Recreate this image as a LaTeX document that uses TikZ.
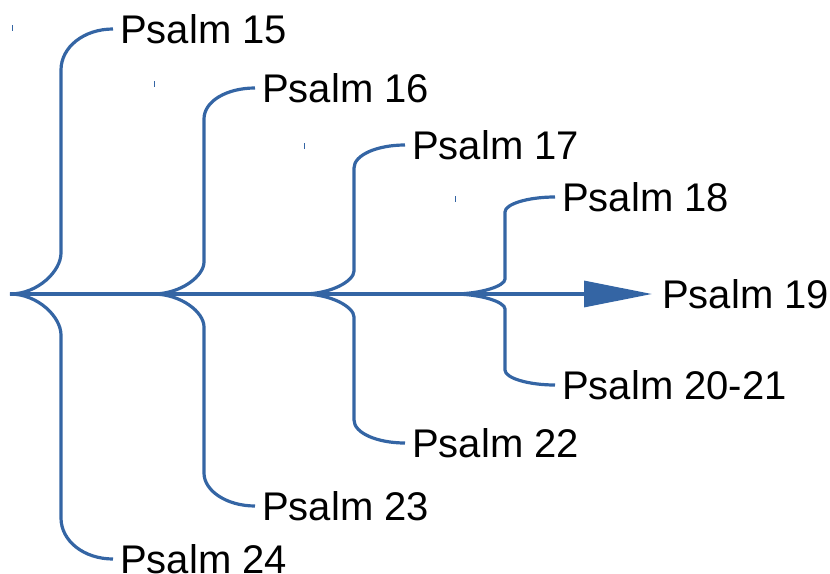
\documentclass[tikz,border=0pt]{standalone}
\usepackage{fontspec}
\setmainfont{Liberation Sans}
\usetikzlibrary{arrows.meta}
\definecolor{brblue}{HTML}{3465A4}
\begin{document}
\begin{tikzpicture}[x=1pt,y=-1pt,
  lbl/.style={anchor=west,inner ysep=0pt,inner xsep=7pt,font=\fontsize{40}{40}\selectfont,text=black},
  br/.style={draw=brblue,line width=3.2pt},
  tick/.style={draw=brblue,line width=1pt}]
\useasboundingbox (0,0) rectangle (830,573);
% tips
\coordinate (t1) at (10,294);
\coordinate (t2) at (153,294);
\coordinate (t3) at (303,294);
\coordinate (t4) at (453,294);
% labels
\node[lbl] (p15) at (113,29) {Psalm 15};
\node[lbl] (p16) at (255,88) {Psalm 16};
\node[lbl] (p17) at (405,145) {Psalm 17};
\node[lbl] (p18) at (555,197) {Psalm 18};
\node[lbl,inner xsep=10pt] (p19) at (652,294) {Psalm 19};
\node[lbl] (p2021) at (555,385) {Psalm 20-21};
\node[lbl] (p22) at (405,443) {Psalm 22};
\node[lbl] (p23) at (255,506) {Psalm 23};
\node[lbl] (p24) at (113,559) {Psalm 24};
% main arrow
\draw[br,-{Triangle[length=68pt,width=26pt]}] (t1) -- (p19.west);
% brace 1
\draw[br] (t1) .. controls (38,294) and (61,271) .. (61,253) -- (61,70) .. controls (61,47) and (84,29) .. (p15.west);
\draw[br] (t1) .. controls (38,294) and (61,317) .. (61,335) -- (61,518) .. controls (61,541) and (84,559) .. (p24.west);
% brace 2
\draw[br] (t2) .. controls (181,294) and (204,276) .. (204,262) -- (204,119) .. controls (204,101) and (227,88) .. (p16.west);
\draw[br] (t2) .. controls (181,294) and (204,312) .. (204,327) -- (204,473) .. controls (204,491) and (227,506) .. (p23.west);
% brace 3
\draw[br] (t3) .. controls (331,294) and (354,281) .. (354,271) -- (354,168) .. controls (354,155) and (377,145) .. (p17.west);
\draw[br] (t3) .. controls (331,294) and (354,307) .. (354,317) -- (354,420) .. controls (354,433) and (377,443) .. (p22.west);
% brace 4
\draw[br] (t4) .. controls (481,294) and (505,286) .. (505,279) -- (505,212) .. controls (505,204) and (528,197) .. (p18.west);
\draw[br] (t4) .. controls (481,294) and (505,302) .. (505,309) -- (505,370) .. controls (505,378) and (528,385) .. (p2021.west);
% small marks
\draw[tick] (12,25) -- (12,31);
\draw[tick] (154,81) -- (154,87);
\draw[tick] (304,143) -- (304,149);
\draw[tick] (455,196) -- (455,202);
\end{tikzpicture}
\end{document}
